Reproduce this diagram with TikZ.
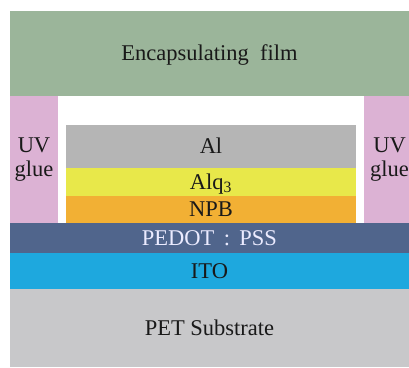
\documentclass[tikz,border=0pt]{standalone}
\usepackage{fontspec}
\setmainfont{Liberation Serif}
\usepackage{tikz}
\usetikzlibrary{positioning}

\definecolor{filmgreen}{RGB}{155,181,154}
\definecolor{gluepink}{RGB}{220,178,212}
\definecolor{algray}{RGB}{181,181,181}
\definecolor{alqyellow}{RGB}{232,232,74}
\definecolor{npborange}{RGB}{242,176,52}
\definecolor{pedotblue}{RGB}{80,101,140}
\definecolor{itoblue}{RGB}{30,168,222}
\definecolor{petgray}{RGB}{200,200,202}
\definecolor{labeltext}{RGB}{25,25,25}

\begin{document}
\begin{tikzpicture}[x=1pt,y=1pt,
		layer/.style={rectangle,draw=none,inner sep=0pt,text=labeltext,
			font=\fontsize{22.5}{24}\selectfont,text height=15pt,text depth=0pt},
		glue/.style={layer,fill=gluepink,minimum width=48pt,minimum height=127pt},
		gluetext/.style={layer,align=center,yshift=-10pt}]
			\useasboundingbox (0,0) rectangle (409,367);
			\fill[white] (0,0) rectangle (409,367);
			% substrate and electrodes
			\node[layer,fill=petgray,minimum width=399pt,minimum height=78pt] (pet) at (209.5,39) {PET Substrate};
			\node[layer,fill=itoblue,minimum width=399pt,minimum height=36pt] (ito) at (209.5,96) {ITO};
			\node[layer,fill=pedotblue,text=white!92!blue,minimum width=399pt,minimum height=30pt] (pedot) at (209.5,129) {PEDOT\ \,:\ \,PSS};
			% organic stack
			\node[layer,fill=npborange,minimum width=290pt,minimum height=27pt] (npb) at (211,157.5) {NPB};
			\node[layer,fill=alqyellow,minimum width=290pt,minimum height=28pt] (alq) at (211,185) {Alq\textsubscript{3}};
			\node[layer,fill=algray,minimum width=290pt,minimum height=43pt] (al) at (211,220.5) {Al};
			% encapsulation
			\node[glue] (glueL) at (34,207.5) {};
			\node[glue] (glueR) at (387.5,207.5) {};
			\node[gluetext] (glueLtext) at (glueL.center) {UV\\glue};
			\node[gluetext,xshift=2pt] (glueRtext) at (glueR.center) {UV\\glue};
			\node[layer,fill=filmgreen,minimum width=399pt,minimum height=85pt] (film) at (209.5,313.5) {Encapsulating\ \ film};
		\end{tikzpicture}
\end{document}
